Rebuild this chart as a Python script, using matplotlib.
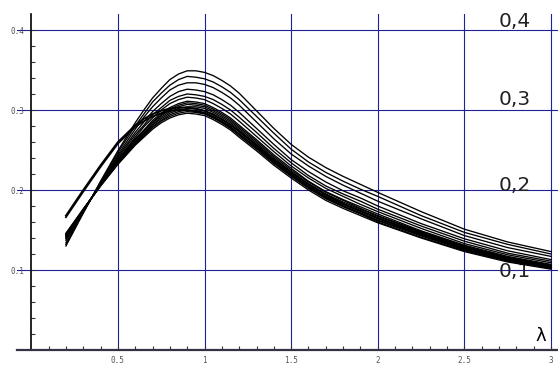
import numpy as np
import matplotlib.pyplot as plt

lam = [0.2, 0.3, 0.4, 0.5, 0.6, 0.65, 0.7, 0.75, 0.8, 0.85, 0.9, 0.95, 1.0, 1.05, 1.1,
       1.15, 1.2, 1.3, 1.4, 1.5, 1.6, 1.7, 1.8, 1.9, 2.0, 2.25, 2.5, 2.75, 3.0]

# upper, clearly separated curves (highest peak first)
c01 = [0.130, 0.171, 0.211, 0.249, 0.284, 0.300, 0.315, 0.327, 0.338, 0.345, 0.349, 0.349, 0.347, 0.343, 0.337,
       0.330, 0.321, 0.299, 0.277, 0.257, 0.241, 0.228, 0.217, 0.207, 0.197, 0.173, 0.151, 0.135, 0.123]
c02 = [0.132, 0.172, 0.210, 0.247, 0.280, 0.295, 0.310, 0.321, 0.331, 0.338, 0.342, 0.341, 0.339, 0.335, 0.329,
       0.322, 0.313, 0.292, 0.271, 0.251, 0.235, 0.222, 0.211, 0.201, 0.192, 0.168, 0.147, 0.132, 0.120]
c03 = [0.134, 0.172, 0.209, 0.244, 0.276, 0.291, 0.304, 0.315, 0.325, 0.331, 0.334, 0.334, 0.332, 0.328, 0.322,
       0.315, 0.306, 0.285, 0.264, 0.245, 0.230, 0.217, 0.206, 0.196, 0.186, 0.164, 0.143, 0.128, 0.117]
c04 = [0.137, 0.173, 0.208, 0.242, 0.272, 0.285, 0.298, 0.308, 0.317, 0.323, 0.326, 0.325, 0.323, 0.319, 0.313,
       0.306, 0.297, 0.277, 0.257, 0.238, 0.223, 0.210, 0.199, 0.190, 0.180, 0.158, 0.139, 0.124, 0.113]
c05 = [0.139, 0.174, 0.208, 0.240, 0.269, 0.281, 0.294, 0.303, 0.312, 0.317, 0.320, 0.319, 0.317, 0.313, 0.307,
       0.300, 0.291, 0.272, 0.252, 0.234, 0.218, 0.205, 0.195, 0.186, 0.176, 0.155, 0.136, 0.121, 0.111]
c06 = [0.140, 0.174, 0.207, 0.238, 0.266, 0.279, 0.290, 0.300, 0.308, 0.313, 0.316, 0.315, 0.313, 0.308, 0.302,
       0.295, 0.286, 0.267, 0.248, 0.230, 0.215, 0.202, 0.192, 0.182, 0.173, 0.152, 0.133, 0.119, 0.109]
# the dense bundle
c07 = [0.141, 0.175, 0.207, 0.237, 0.264, 0.275, 0.287, 0.296, 0.303, 0.308, 0.311, 0.310, 0.308, 0.303, 0.297,
       0.290, 0.281, 0.263, 0.244, 0.227, 0.211, 0.198, 0.188, 0.179, 0.170, 0.149, 0.131, 0.117, 0.107]
c08 = [0.142, 0.175, 0.206, 0.236, 0.263, 0.274, 0.285, 0.294, 0.301, 0.306, 0.309, 0.308, 0.306, 0.301, 0.295,
       0.288, 0.279, 0.261, 0.242, 0.225, 0.210, 0.197, 0.187, 0.177, 0.168, 0.148, 0.130, 0.116, 0.106]
c09 = [0.143, 0.175, 0.206, 0.235, 0.262, 0.273, 0.284, 0.293, 0.300, 0.304, 0.307, 0.306, 0.304, 0.299, 0.293,
       0.286, 0.277, 0.259, 0.240, 0.223, 0.208, 0.195, 0.185, 0.176, 0.167, 0.147, 0.129, 0.115, 0.105]
c10 = [0.143, 0.175, 0.206, 0.235, 0.260, 0.271, 0.282, 0.291, 0.298, 0.302, 0.304, 0.304, 0.302, 0.297, 0.291,
       0.284, 0.275, 0.257, 0.238, 0.222, 0.207, 0.194, 0.183, 0.174, 0.165, 0.145, 0.127, 0.114, 0.104]
c11 = [0.144, 0.175, 0.206, 0.234, 0.259, 0.270, 0.281, 0.289, 0.296, 0.300, 0.302, 0.301, 0.299, 0.295, 0.289,
       0.282, 0.273, 0.255, 0.236, 0.220, 0.205, 0.192, 0.182, 0.173, 0.164, 0.144, 0.126, 0.113, 0.104]
c12 = [0.145, 0.176, 0.206, 0.233, 0.258, 0.269, 0.279, 0.287, 0.294, 0.298, 0.300, 0.299, 0.297, 0.292, 0.286,
       0.279, 0.270, 0.253, 0.235, 0.218, 0.203, 0.190, 0.180, 0.171, 0.162, 0.143, 0.125, 0.112, 0.103]
c13 = [0.145, 0.176, 0.205, 0.233, 0.257, 0.267, 0.278, 0.286, 0.292, 0.296, 0.298, 0.297, 0.295, 0.290, 0.284,
       0.277, 0.268, 0.251, 0.233, 0.217, 0.202, 0.189, 0.179, 0.170, 0.160, 0.141, 0.124, 0.111, 0.102]
c14 = [0.146, 0.176, 0.205, 0.232, 0.256, 0.266, 0.276, 0.284, 0.290, 0.294, 0.296, 0.295, 0.293, 0.288, 0.282,
       0.275, 0.266, 0.249, 0.231, 0.215, 0.200, 0.187, 0.177, 0.168, 0.159, 0.140, 0.123, 0.110, 0.101]
# the two curves that start high
c15 = [0.166, 0.198, 0.229, 0.258, 0.279, 0.286, 0.292, 0.296, 0.299, 0.300, 0.300, 0.298, 0.296, 0.291, 0.285,
       0.278, 0.270, 0.253, 0.235, 0.219, 0.204, 0.191, 0.180, 0.171, 0.162, 0.143, 0.126, 0.113, 0.103]
c16 = [0.168, 0.200, 0.231, 0.260, 0.281, 0.289, 0.295, 0.299, 0.302, 0.303, 0.303, 0.302, 0.299, 0.294, 0.288,
       0.281, 0.273, 0.256, 0.238, 0.222, 0.207, 0.194, 0.183, 0.174, 0.165, 0.146, 0.128, 0.115, 0.105]

curves = [c01, c02, c03, c04, c05, c06, c07, c08, c09, c10,
          c11, c12, c13, c14]
start_high = [c15, c16]

xticks = [0.5, 1, 1.5, 2, 2.5, 3]
xticklabels = ['0.5', '1', '1.5', '2', '2.5', '3']
yticks = [0.1, 0.2, 0.3, 0.4]
yticklabels = ['0.1', '0.2', '0.3', '0.4']
side_labels = ['0,4', '0,3', '0,2', '0,1']
side_y = [0.404, 0.306, 0.199, 0.091]

fig = plt.figure(figsize=(5.58, 3.65), dpi=100)
ax = fig.add_axes([17.4 / 558, 15 / 365, (558 - 17.4) / 558, 336 / 365])

# spine position first: moving it resets the tick objects
ax.spines['top'].set_visible(False)
ax.spines['right'].set_visible(False)
ax.spines['left'].set_position(('data', 0))
ax.spines['left'].set_linewidth(1.2)
ax.spines['bottom'].set_linewidth(1.6)
ax.spines['bottom'].set_color('#333344')

grid_c = '#1f1f96'
for lbl, yy in zip(side_labels, side_y):
    ax.text(2.695, yy, lbl, fontsize=14.5, color='#222222', ha='left',
            va='baseline', zorder=2)

for c in curves:
    ax.plot(lam, c, color='black', lw=0.95, zorder=3)
for c in start_high:
    ax.plot(lam, c, color='black', lw=1.3, zorder=3)

ax.text(2.94, 0.017, 'λ', fontsize=13, ha='center', va='center', zorder=4)

ax.set_xlim(-0.08, 3.04)
ax.set_ylim(0, 0.42)

tick_font = dict(family='DejaVu Sans Mono', fontsize=5.5, color='#555555')
ax.set_xticks(xticks)
ax.set_xticklabels(xticklabels, **tick_font)
ax.set_xticks(np.arange(1, 31) / 10, minor=True)
ax.set_yticks(yticks)
ax.set_yticklabels(yticklabels, **tick_font)
ax.set_yticks(np.arange(1, 21) / 50, minor=True)

ax.tick_params(axis='both', which='both', direction='in', length=3,
               width=0.8, color='#333333')
ax.tick_params(axis='x', pad=4)
ax.tick_params(axis='y', pad=5)
ax.grid(True, which='major', color=grid_c, lw=0.8, zorder=1)
ax.set_axisbelow(True)

fig.savefig('out.png', dpi=100)
